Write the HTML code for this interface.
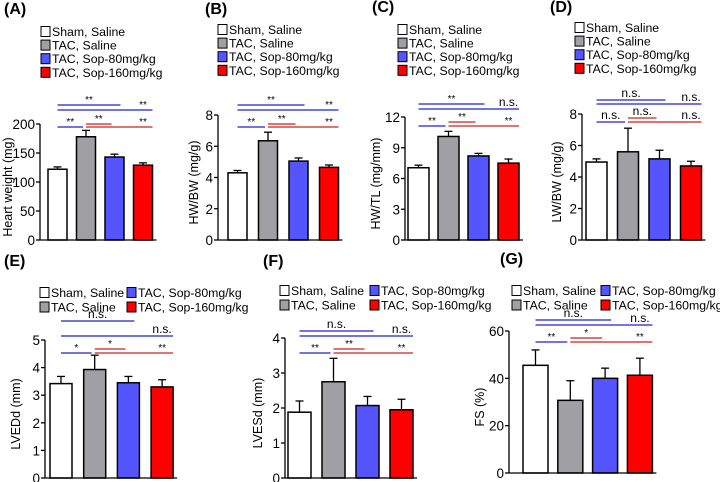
<!DOCTYPE html>
<html><head><meta charset="utf-8"><style>
body{margin:0;background:#fff}
svg{display:block;font-family:"Liberation Sans",Arial,sans-serif}
</style></head><body>
<svg id="c" width="720" height="482" viewBox="0 0 720 482"></svg>
<script>
const groups=["Sham, Saline","TAC, Saline","TAC, Sop-80mg/kg","TAC, Sop-160mg/kg"];
const colors=["#ffffff","#a0a0a4","#5555ff","#ff0000"];
const valA=[122,178,143,129], errA=[126,189,148,133];
const valB=[4.3,6.35,5.05,4.65], errB=[4.45,6.9,5.25,4.8];
const valC=[7.05,10.1,8.2,7.5], errC=[7.3,10.6,8.45,7.9];
const valD=[4.95,5.6,5.15,4.7], errD=[5.15,7.1,5.7,5.0];
const valE=[3.42,3.93,3.45,3.3], errE=[3.68,4.45,3.68,3.56];
const valF=[1.88,2.75,2.07,1.95], errF=[2.2,3.42,2.33,2.25];
const valG=[45.5,30.7,40,41.3], errG=[52,39,44.3,48.5];
const ticksA=[0,50,100,150,200], ticksB=[0,2,4,6,8], ticksC=[0,3,6,9,12], ticksD=[0,2,4,6,8];
const ticksE=[0,1,2,3,4,5], ticksF=[0,1,2,3,4], ticksG=[0,20,40,60];
const sigA=["**","**","**","**","**"], sigB=["**","**","**","**","**"], sigC=["**","n.s.","**","**","**"];
const sigD=["n.s.","n.s.","n.s.","n.s.","n.s."], sigE=["n.s.","n.s.","*","*","**"];
const sigF=["n.s.","n.s.","**","**","**"], sigG=["n.s.","n.s.","**","*","**"];

const svg=document.getElementById('c');
const NS="http://www.w3.org/2000/svg";
function mk(tag,at,parent,txt){const e=document.createElementNS(NS,tag);for(const k in at)e.setAttribute(k,at[k]);if(txt!==undefined)e.textContent=txt;(parent||svg).appendChild(e);return e;}

function panel(p){
  const g=mk('g',{});
  
  
  const lab=mk('text',{x:p.lx,y:p.ly,'font-size':16,'font-weight':'bold'},g,'('+p.id+')');
  
  
  // legend
  for(let i=0;i<4;i++){
    let x,y;
    if(p.leg2){x=p.legx+(i>=2?p.leg2:0);y=p.legy+(i%2)*14.5;}
    else{x=p.legx;y=p.legy+i*13.6;}
    const r=mk('rect',{x:x,y:y-9.5,width:9,height:10,fill:colors[i],stroke:'#000','stroke-width':1},g);
    
    
    const t=mk('text',{x:x+11,y:y,'font-size':12.3},g,groups[i]);
    
    
  }
  const max=p.ticks[p.ticks.length-1];
  const Y=v=>p.y0-(v/max)*(p.y0-p.ytop);
  const X=i=>p.bx+i*p.step;
  // bars
  for(let i=0;i<4;i++){
    const cx=X(i)+p.bw/2;
    const e=mk('line',{x1:cx,x2:cx,y1:Y(p.vals[i]),y2:Y(p.errs[i]),stroke:'#000','stroke-width':1.3},g);
    
    
    const cap=mk('line',{x1:cx-4,x2:cx+4,y1:Y(p.errs[i]),y2:Y(p.errs[i]),stroke:'#000','stroke-width':1.3},g);
    
    
    const b=mk('rect',{x:X(i),y:Y(p.vals[i]),width:p.bw,height:p.y0-Y(p.vals[i]),fill:colors[i],stroke:'#000','stroke-width':1.5},g);
    
    
  }
  // axes
  const ax=mk('line',{x1:p.ax,x2:p.ax,y1:p.ytop,y2:p.y0,stroke:'#000','stroke-width':1.3},g);
  
  
  const xa=mk('line',{x1:p.ax,x2:X(3)+p.bw+4,y1:p.y0,y2:p.y0,stroke:'#000','stroke-width':1.3},g);
  
  
  p.ticks.forEach(t=>{
    const tk=mk('line',{x1:p.ax-4,x2:p.ax,y1:Y(t),y2:Y(t),stroke:'#000','stroke-width':1.3},g);
    
    
    const tl=mk('text',{x:p.ax-5,y:Y(t)+5,'font-size':13.5,'text-anchor':'end'},g,t);
    
    
  });
  const yt=mk('text',{x:0,y:0,'font-size':12.5,'text-anchor':'middle',transform:`translate(${p.ytx},${(p.y0+p.ytop)/2+5}) rotate(-90)`},g,p.ytitle);
  
  
  // significance
  const c0=X(0)+p.bw/2,c1=X(1)+p.bw/2,c2=X(2)+p.bw/2,r3=X(3)+p.bw;
  const lines=[[c0,c2+6,p.sy[0],'#2222cc',p.sig[0]],[c0,r3,p.sy[1],'#2222cc',p.sig[1]],
    [c0,c1-3,p.sy[2],'#2222cc',p.sig[2]],[c1,c2-3,p.sy[3],'#cc2222',p.sig[3]],[c1,r3,p.sy[2],'#cc2222',p.sig[4]]];
  lines.forEach((l,k)=>{
    const ln=mk('line',{x1:l[0],x2:l[1],y1:l[2],y2:l[2],stroke:l[3],'stroke-width':1.2},g);
    
    
    const tx=(k===1||k===4)?X(3)+p.bw/2:(l[0]+l[1])/2;
    const ns=l[4]==='n.s.';
    const st=mk('text',{x:tx,y:l[2]-(ns?3:2),'font-size':ns?12:10,'text-anchor':'middle'},g,l[4]);
    
    
  });
}
panel({id:'A',lx:4,ly:14,legx:41,legy:36,vals:valA,errs:errA,ticks:ticksA,ax:40,ytop:124,y0:240,bx:48,bw:19,step:28.5,ytx:12,ytitle:'Heart weight (mg)',sig:sigA,sy:[105,110,127,124]});
panel({id:'B',lx:205,ly:14,legx:218,legy:34,vals:valB,errs:errB,ticks:ticksB,ax:218,ytop:115,y0:240,bx:228,bw:19,step:30.5,ytx:198,ytitle:'HW/BW (mg/g)',sig:sigB,sy:[105,110,127,124]});
panel({id:'C',lx:372,ly:12,legx:398,legy:34,vals:valC,errs:errC,ticks:ticksC,ax:405,ytop:117,y0:240,bx:408,bw:21,step:30,ytx:380,ytitle:'HW/TL (mg/mm)',sig:sigC,sy:[104,109,126,122]});
panel({id:'D',lx:550,ly:12,legx:575,legy:32,vals:valD,errs:errD,ticks:ticksD,ax:582,ytop:114,y0:240,bx:586,bw:21,step:31.5,ytx:561,ytitle:'LW/BW (mg/g)',sig:sigD,sy:[100,104,122,118]});
panel({id:'E',lx:4,ly:266,legx:40,legy:297,leg2:87,vals:valE,errs:errE,ticks:ticksE,ax:45,ytop:340,y0:478,bx:50,bw:22,step:33.7,ytx:20,ytitle:'LVEDd (mm)',sig:sigE,sy:[321,336,353,349]});
panel({id:'F',lx:263,ly:266,legx:280,legy:295,leg2:90,vals:valF,errs:errF,ticks:ticksF,ax:285,ytop:338,y0:478,bx:288,bw:23,step:34,ytx:262,ytitle:'LVESd (mm)',sig:sigF,sy:[331,336,353,349]});
panel({id:'G',lx:500,ly:264,legx:512,legy:295,leg2:89,vals:valG,errs:errG,ticks:ticksG,ax:509,ytop:331,y0:473,bx:523,bw:25,step:34.8,ytx:484,ytitle:'FS (%)',sig:sigG,sy:[320,325,342,338]});
</script>
</body></html>
